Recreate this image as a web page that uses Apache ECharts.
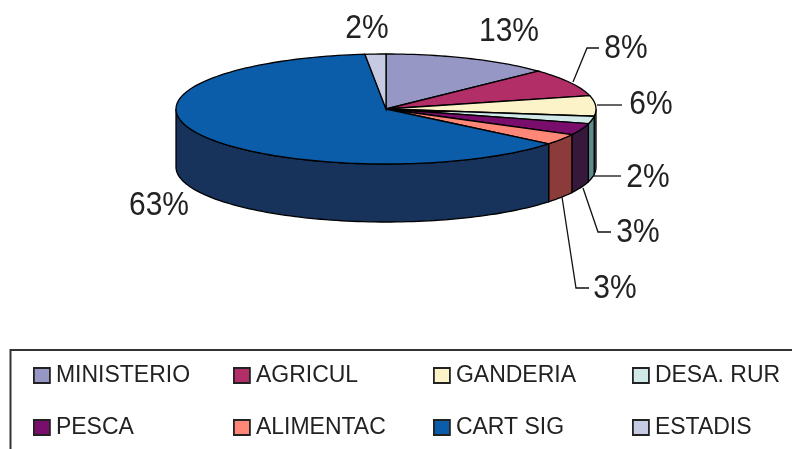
<!DOCTYPE html>
<html>
<head>
<meta charset="utf-8">
<style>
html,body{margin:0;padding:0;background:#fff;overflow:hidden}
#c{width:792px;height:449px;filter:blur(0.45px)}
</style>
<script src="https://cdn.jsdelivr.net/npm/echarts@6/dist/echarts.min.js"></script>
</head>
<body>
<div id="c"></div>
<script>
// Data
var categories = ['MINISTERIO','AGRICUL','GANDERIA','DESA. RUR','PESCA','ALIMENTAC','CART SIG','ESTADIS'];
var shares = [12.9, 8.2, 6.0, 2.2, 3.4, 3.2, 62.5, 1.6];

// Styles
var topColors  = ['#9797C6','#B22E66','#FCF4C8','#D2E9E9','#7A0E6C','#FF8777','#0B5CA9','#C6CBE3'];
var sideColors = ['#4B4B63','#591733','#7E7A64','#5E8C8C','#36183A','#8C3B3B','#17325B','#63657A'];

// Layout
var CX = 386, CY = 109, RX = 210, RY = 55, DEPTH = 58;
var labelPos = [[509,32],[626,49],[651,105],[648,178],[638,233],[615,289],[159,206],[367,29]];
var leaders = [
  null,
  [[573,82],[587,48],[599,48]],
  [[597,105],[622,105]],
  [[593,176],[621,176]],
  [[583,188],[598,232],[611,232]],
  [[562,197],[576,288],[589,288]],
  null,
  null
];
var legendCols = [[33,[0,4]],[233,[1,5]],[433,[2,6]],[632,[3,7]]];

var total = shares.reduce(function(a,b){return a+b;},0);
var starts = [], acc = 0;
shares.forEach(function(v){ starts.push(acc/total*360); acc += v; });

function rim(deg, dy){
  var r = deg*Math.PI/180;
  return [CX + RX*Math.sin(r), CY - RY*Math.cos(r) + (dy||0)];
}
function arcPts(a0, a1, dy){
  var pts = [], n = Math.max(2, Math.ceil((a1-a0)/1.5));
  for (var i=0;i<=n;i++) pts.push(rim(a0+(a1-a0)*i/n, dy));
  return pts;
}
function renderSlice(idx){
  return function(params, api){
    var a0 = starts[idx], a1 = a0 + api.value(0)/total*360;
    var children = [];
    var s0 = Math.max(a0,90), s1 = Math.min(a1,270);
    if (s1 > s0){
      children.push({type:'polygon', z2:1,
        shape:{points: arcPts(s0,s1,0).concat(arcPts(s0,s1,DEPTH).reverse())},
        style:{fill:sideColors[idx], stroke:'#000', lineWidth:1.3}});
    }
    children.push({type:'polygon', z2:2,
      shape:{points:[[CX,CY]].concat(arcPts(a0,a1,0))},
      style:{fill:topColors[idx], stroke:'#000', lineWidth:1.3}});
    if (leaders[idx]) children.push({type:'polyline', z2:3,
      shape:{points:leaders[idx]},
      style:{fill:null, stroke:'#111', lineWidth:1.3}});
    children.push({type:'text', z2:4, x:labelPos[idx][0], y:labelPos[idx][1], scaleY:1.1,
      style:{text:Math.round(api.value(0))+'%', fill:'#222',
             font:'30px "Liberation Sans", Arial, sans-serif', align:'center', verticalAlign:'middle'}});
    return {type:'group', children:children};
  };
}

var chart = echarts.init(document.getElementById('c'), null, {renderer:'canvas'});
chart.setOption({
  animation:false,
  backgroundColor:'#fff',
  graphic:[{type:'rect', z:0, shape:{x:10.5,y:350,width:820,height:160},
            style:{fill:'#fff',stroke:'#333',lineWidth:2}}],
  legend: legendCols.map(function(col){
    return {
      show:true, orient:'vertical', left:col[0], top:364, z:5,
      data:col[1].map(function(i){return categories[i];}),
      selectedMode:false, icon:'rect', itemWidth:16, itemHeight:15, itemGap:29, padding:0,
      itemStyle:{borderColor:'#222',borderWidth:1.8},
      textStyle:{color:'#222',fontFamily:'"Liberation Sans", Arial, sans-serif',fontSize:23,padding:[0,0,0,1]}
    };
  }),
  series: categories.map(function(name,i){
    return {
      type:'custom', name:name, coordinateSystem:'none', silent:true,
      itemStyle:{color:topColors[i]},
      renderItem:renderSlice(i),
      data:[[shares[i]]]
    };
  })
});
</script>
</body>
</html>
